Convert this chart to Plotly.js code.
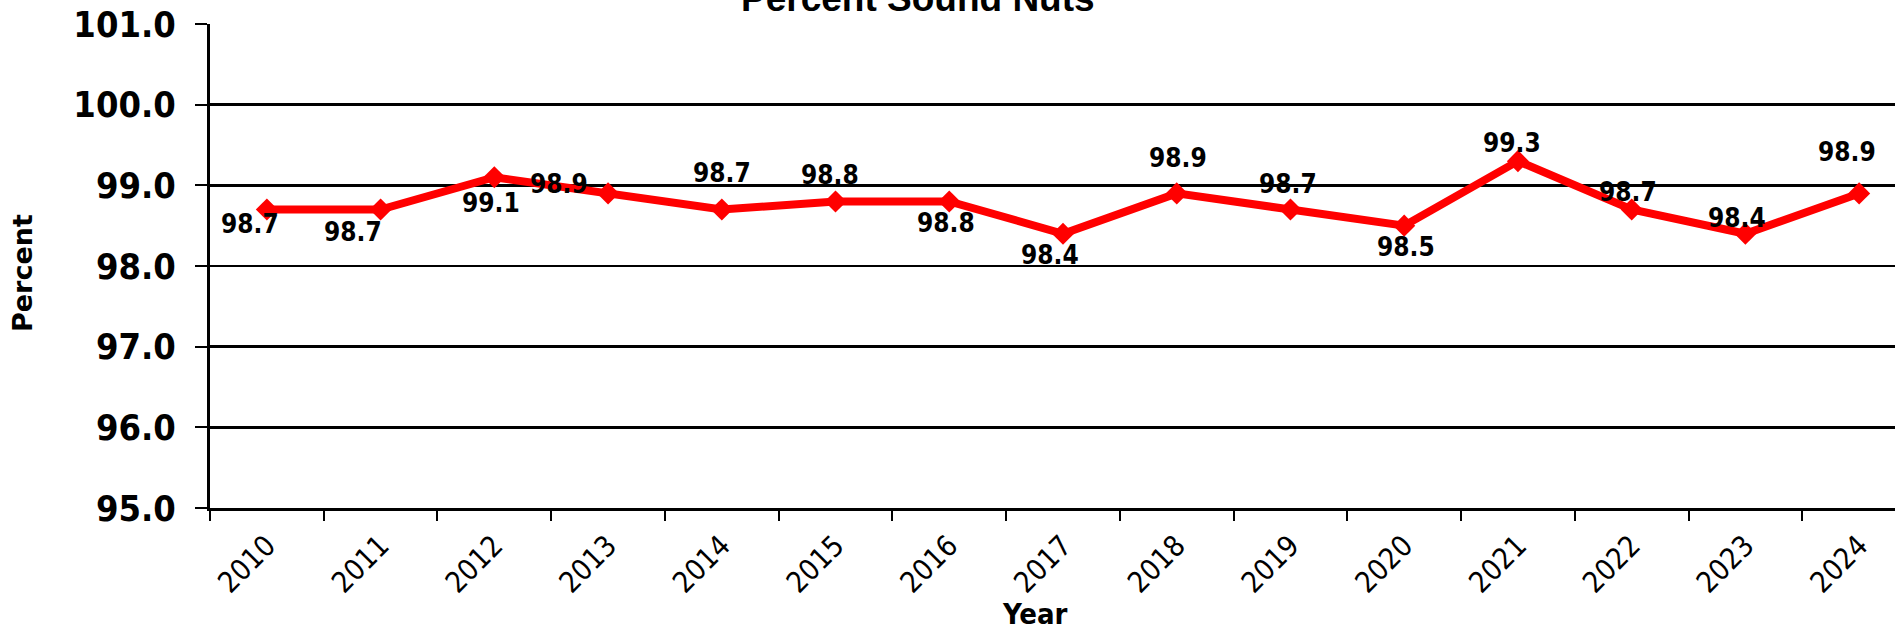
<!DOCTYPE html>
<html>
<head>
<meta charset="utf-8">
<script src="https://cdn.plot.ly/plotly-3.0.1.min.js"></script>
<style>
html, body { margin: 0; padding: 0; overflow: hidden; background: #ffffff; }
#chart { width: 1916px; height: 633px; }
</style>
</head>
<body>
<div id="chart"></div>
<script>
// ---- data ----
const years = ["2010","2011","2012","2013","2014","2015","2016","2017","2018","2019","2020","2021","2022","2023","2024"];
const percentSound = [98.7, 98.7, 99.1, 98.9, 98.7, 98.8, 98.8, 98.4, 98.9, 98.7, 98.5, 99.3, 98.7, 98.4, 98.9];
const yTickValues = [95, 96, 97, 98, 99, 100, 101];
const chartTitle = "Percent Sound Nuts";
const xTitle = "Year";
const yTitle = "Percent";

// ---- label placement (pixel offsets from each point: [dx right, dy down]) ----
const labelOffsets = [
  [-17, 14.5], [-28, 22.5], [-3, 26], [-49, -9], [0, -36.5],
  [-6, -26], [-3, 22], [-13, 21], [1, -35], [-2, -26],
  [2, 21], [-6, -18], [-4, -17.5], [-8, -15.5], [-12, -41]
];

const condBold = "DejaVu Sans Condensed, DejaVu Sans, sans-serif";

const trace = {
  type: "scatter",
  mode: "lines+markers",
  x: years,
  y: percentSound,
  line: { color: "#ff0000", width: 8 },
  marker: { symbol: "diamond", size: 17, color: "#ff0000" },
  hoverinfo: "skip",
  cliponaxis: false
};

const annotations = percentSound.map((v, i) => ({
  xref: "x", yref: "y",
  x: i, y: v,
  text: v.toFixed(1),
  showarrow: false,
  xanchor: "center", yanchor: "middle",
  xshift: labelOffsets[i][0],
  yshift: -labelOffsets[i][1],
  font: { family: condBold, size: 26, color: "#000000", weight: "bold" }
}));

annotations.push({
  xref: "paper", yref: "paper",
  x: (917.5 - 210) / 1706, y: 1.0054,
  xanchor: "center", yanchor: "bottom",
  text: chartTitle,
  showarrow: false,
  font: { family: "Liberation Sans, Arial, sans-serif", size: 37, color: "#000000", weight: "bold" }
});
annotations.push({
  xref: "paper", yref: "paper",
  x: 0.4836, y: -0.219,
  xanchor: "center", yanchor: "middle",
  text: xTitle,
  showarrow: false,
  font: { family: condBold, size: 29, color: "#000000", weight: "bold" }
});
annotations.push({
  xref: "paper", yref: "paper",
  x: -0.1102, y: 0.4855,
  xanchor: "center", yanchor: "middle",
  textangle: -90,
  text: yTitle,
  showarrow: false,
  font: { family: "DejaVu Sans, sans-serif", size: 27, color: "#000000", weight: "bold" }
});

const layout = {
  width: 1916,
  height: 633,
  margin: { l: 210, r: 0, t: 24, b: 125, pad: 0 },
  paper_bgcolor: "#ffffff",
  plot_bgcolor: "#ffffff",
  showlegend: false,
  xaxis: {
    type: "category",
    range: [-0.5, 14.5],
    tickson: "boundaries",
    ticks: "outside",
    ticklen: 10,
    tickwidth: 2,
    tickcolor: "#000000",
    showgrid: false,
    zeroline: false,
    showline: true,
    linecolor: "#000000",
    linewidth: 3,
    tickangle: -45,
    ticklabelstandoff: 6,
    tickfont: { family: "DejaVu Sans Condensed, DejaVu Sans, sans-serif", size: 29, color: "#000000" },
    fixedrange: true
  },
  yaxis: {
    range: [95, 101],
    tickvals: yTickValues,
    ticktext: yTickValues.map(v => v.toFixed(1)),
    ticks: "outside",
    ticklen: 12,
    tickwidth: 2,
    tickcolor: "#000000",
    showgrid: true,
    gridcolor: "#000000",
    gridwidth: 2.5,
    zeroline: false,
    showline: true,
    linecolor: "#000000",
    linewidth: 3,
    ticklabelstandoff: 12,
    tickfont: { family: condBold, size: 36, color: "#000000", weight: "bold" },
    fixedrange: true
  },
  annotations: annotations
};

Plotly.newPlot("chart", [trace], layout, { staticPlot: true, displayModeBar: false });
</script>
</body>
</html>
